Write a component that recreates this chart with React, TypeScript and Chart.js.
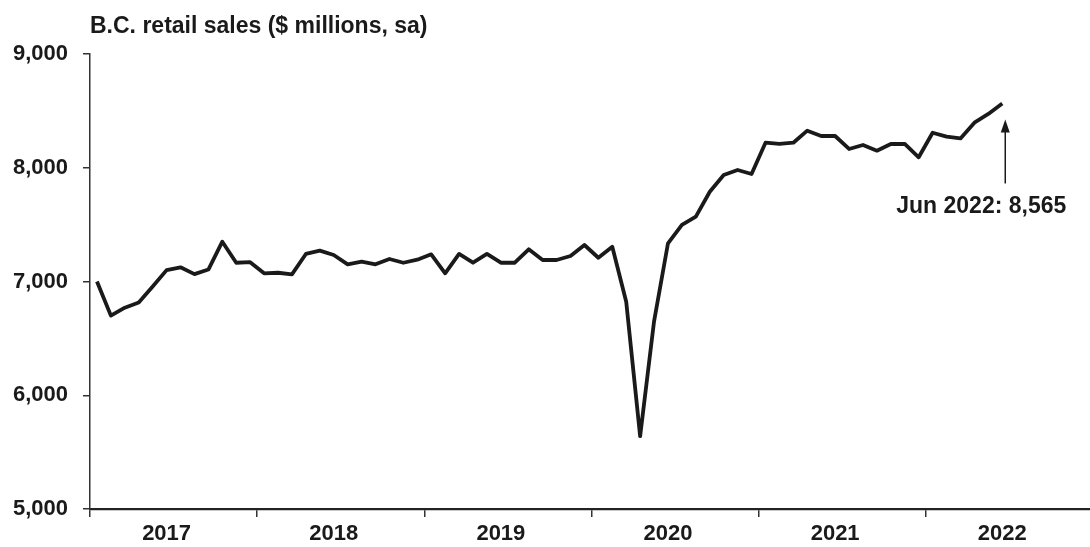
import React, { useEffect, useRef } from "react";
import { Chart, registerables } from "chart.js";

Chart.register(...registerables);

const years = ["2017", "2018", "2019", "2020", "2021", "2022"];
const yTicks = [5000, 6000, 7000, 8000, 9000];

const sales2017 = [7000, 6700, 6770, 6815, 6955, 7100, 7125, 7065, 7105, 7350, 7165, 7170];
const sales2018 = [7072, 7077, 7063, 7242, 7271, 7233, 7151, 7174, 7151, 7198, 7165, 7192];
const sales2019 = [7239, 7072, 7242, 7165, 7242, 7165, 7165, 7283, 7189, 7189, 7224, 7321];
const sales2020 = [7209, 7305, 6822, 5640, 6650, 7336, 7497, 7570, 7789, 7936, 7980, 7945];
const sales2021 = [8220, 8209, 8220, 8326, 8279, 8279, 8165, 8200, 8150, 8209, 8209, 8092];
const sales2022 = [8308, 8273, 8258, 8396, 8473, 8565];

const titleText = "B.C. retail sales ($ millions, sa)";
const annotationText = "Jun 2022: 8,565";

const FONT = 'Arial, "Liberation Sans", Helvetica, sans-serif';
const INK = "#1a1a1a";

export default function App() {
  const ref = useRef<HTMLCanvasElement | null>(null);

  useEffect(() => {
    if (!ref.current) return;
    const all = [...sales2017, ...sales2018, ...sales2019, ...sales2020, ...sales2021, ...sales2022];
    const points = all.map((v, i) => ({ x: i + 0.5, y: v }));
    const lastIdx = all.length - 1;

    const overlay = {
      id: "overlay",
      afterDraw(chart: any) {
        const ctx = chart.ctx;
        const xs = chart.scales.x;
        const ys = chart.scales.y;
        ctx.save();
        // title
        ctx.fillStyle = INK;
        ctx.font = `bold 23px ${FONT}`;
        ctx.textAlign = "left";
        ctx.textBaseline = "alphabetic";
        ctx.fillText(titleText, chart.chartArea.left, 33);
        // annotation arrow
        const px = xs.getPixelForValue(lastIdx + 0.5) + 3;
        const py = ys.getPixelForValue(all[lastIdx]);
        const tipY = py + 16;
        const baseY = py + 80;
        ctx.strokeStyle = INK;
        ctx.lineWidth = 1.5;
        ctx.beginPath();
        ctx.moveTo(px, baseY);
        ctx.lineTo(px, tipY + 10);
        ctx.stroke();
        ctx.beginPath();
        ctx.moveTo(px, tipY);
        ctx.lineTo(px - 4.5, tipY + 13);
        ctx.lineTo(px + 4.5, tipY + 13);
        ctx.closePath();
        ctx.fill();
        ctx.font = `bold 23px ${FONT}`;
        ctx.textAlign = "center";
        ctx.textBaseline = "middle";
        ctx.fillText(annotationText, px - 24, baseY + 23);
        ctx.restore();
      },
    };

    const chart = new Chart(ref.current, {
      type: "line",
      data: {
        datasets: [
          {
            data: points,
            borderColor: INK,
            borderWidth: 3.8,
            borderJoinStyle: "round",
            pointRadius: 0,
            tension: 0,
            fill: false,
          },
        ],
      },
      options: {
        animation: false,
        responsive: false,
        layout: { padding: { top: 54, right: 0, left: 0, bottom: 0 } },
        plugins: { legend: { display: false }, tooltip: { enabled: false }, title: { display: false } },
        scales: {
          x: {
            type: "linear",
            min: 0,
            max: 71.8,
            afterBuildTicks: (scale: any) => {
              const t: any[] = [];
              years.forEach((_, k) => {
                t.push({ value: k * 12 });
                t.push({ value: k * 12 + 5.5 });
              });
              scale.ticks = t;
            },
            afterFit: (scale: any) => {
              scale.height = 38;
            },
            grid: {
              drawOnChartArea: false,
              drawTicks: true,
              tickLength: 8,
              lineWidth: 1.5,
              color: (c: any) => (c.tick && c.tick.value % 12 === 0 ? "#333" : "rgba(0,0,0,0)"),
            },
            border: { display: true, color: "#222", width: 2.2 },
            ticks: {
              autoSkip: false,
              maxRotation: 0,
              padding: 4,
              color: INK,
              font: { family: FONT, size: 22, weight: "bold" },
              callback: (v: any) => {
                const n = Number(v);
                if (n % 12 === 5.5) return years[Math.floor(n / 12)];
                return "";
              },
            },
          },
          y: {
            type: "linear",
            min: yTicks[0],
            max: yTicks[yTicks.length - 1],
            afterBuildTicks: (scale: any) => {
              scale.ticks = yTicks.map((v) => ({ value: v }));
            },
            afterFit: (scale: any) => {
              scale.width = 90;
            },
            grid: {
              drawOnChartArea: false,
              drawTicks: true,
              tickLength: 7,
              lineWidth: 1.5,
              color: "#333",
            },
            border: { display: true, color: "#333", width: 1.5 },
            ticks: {
              padding: 15,
              color: INK,
              font: { family: FONT, size: 22, weight: "bold" },
              callback: (v: any) => Number(v).toLocaleString("en-US"),
            },
          },
        },
      },
      plugins: [overlay],
    });
    return () => chart.destroy();
  }, []);

  return (
    <div style={{ position: "fixed", left: 0, top: 0, width: 1090, height: 547, background: "#fff" }}>
      <canvas ref={ref} width={1090} height={547} />
    </div>
  );
}
